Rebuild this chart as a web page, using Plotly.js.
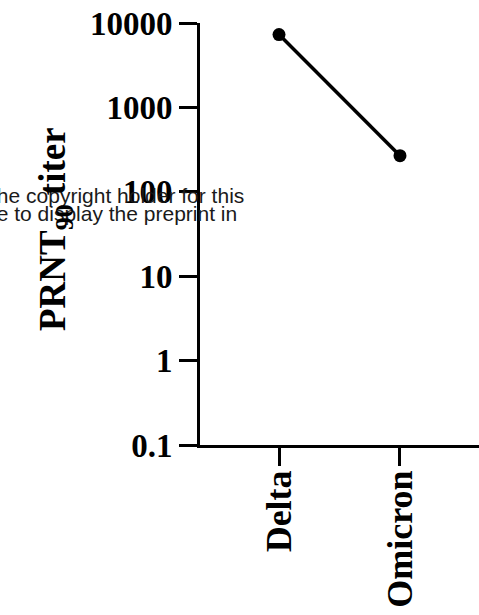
<!DOCTYPE html>
<html>
<head>
<meta charset="utf-8">
<script src="https://cdn.plot.ly/plotly-3.0.1.min.js"></script>
<style>
  html, body { margin: 0; padding: 0; background: #ffffff; }
  #chart { width: 479px; height: 615px; }
</style>
</head>
<body>
<div id="chart"></div>
<script>
// ---- data ----
const variants = ['Delta', 'Omicron'];
const titers = [7300, 268];
const yTickVals = [0.1, 1, 10, 100, 1000, 10000];
const yTickText = ['0.1', '1', '10', '100', '1000', '10000'];
const yTitle = 'PRNT<sub>90</sub> titer';
const watermarkLines = ['the copyright holder for this', 'license to display the preprint in'];

const serifBold = { family: 'Liberation Serif, "Times New Roman", serif', color: '#000000', weight: 'bold' };
const sansWm = { family: 'Liberation Sans, Arial, sans-serif', size: 21, color: '#1a1a1a' };

// pixel helpers for the plot frame (margins below)
const L = 200, T = 23, W = 279, H = 422;
const px = p => (p - L) / W;
const py = p => (T + H - p) / H;

const trace = {
  type: 'scatter',
  mode: 'lines+markers',
  x: variants,
  y: titers,
  line: { color: '#000000', width: 3.5 },
  marker: { color: '#000000', size: 13 },
  hoverinfo: 'skip',
  showlegend: false,
  cliponaxis: false
};

const layout = {
  width: 479,
  height: 615,
  margin: { l: L, r: 479 - L - W, t: T, b: 615 - T - H, pad: 0 },
  paper_bgcolor: '#ffffff',
  plot_bgcolor: '#ffffff',
  showlegend: false,
  hovermode: false,
  xaxis: {
    type: 'category',
    range: [-0.653, 1.653],
    showgrid: false,
    zeroline: false,
    showline: true,
    linecolor: '#000000',
    linewidth: 3,
    ticks: 'outside',
    ticklen: 18,
    tickwidth: 3,
    tickcolor: '#000000',
    tickangle: -90,
    ticklabelstandoff: -10,
    tickfont: Object.assign({ size: 36 }, serifBold),
    automargin: false,
    fixedrange: true
  },
  yaxis: {
    type: 'log',
    range: [-1, 4],
    tickvals: yTickVals,
    ticktext: yTickText,
    showgrid: false,
    zeroline: false,
    showline: true,
    linecolor: '#000000',
    linewidth: 3,
    ticks: 'outside',
    ticklen: 18,
    tickwidth: 3,
    tickcolor: '#000000',
    tickfont: Object.assign({ size: 33 }, serifBold),
    automargin: false,
    fixedrange: true
  },
  annotations: [
    {
      xref: 'paper', yref: 'paper',
      x: px(245), y: py(195),
      xanchor: 'right', yanchor: 'middle',
      text: watermarkLines[0],
      showarrow: false,
      borderpad: 0,
      font: sansWm
    },
    {
      xref: 'paper', yref: 'paper',
      x: px(238), y: py(214),
      xanchor: 'right', yanchor: 'middle',
      text: watermarkLines[1],
      showarrow: false,
      borderpad: 0,
      font: sansWm
    },
    {
      xref: 'paper', yref: 'paper',
      x: px(55), y: py(229),
      xanchor: 'center', yanchor: 'middle',
      textangle: -90,
      text: yTitle,
      showarrow: false,
      borderpad: 0,
      font: Object.assign({ size: 37 }, serifBold)
    }
  ]
};

Plotly.newPlot('chart', [trace], layout, { displayModeBar: false, staticPlot: true });
</script>
</body>
</html>
